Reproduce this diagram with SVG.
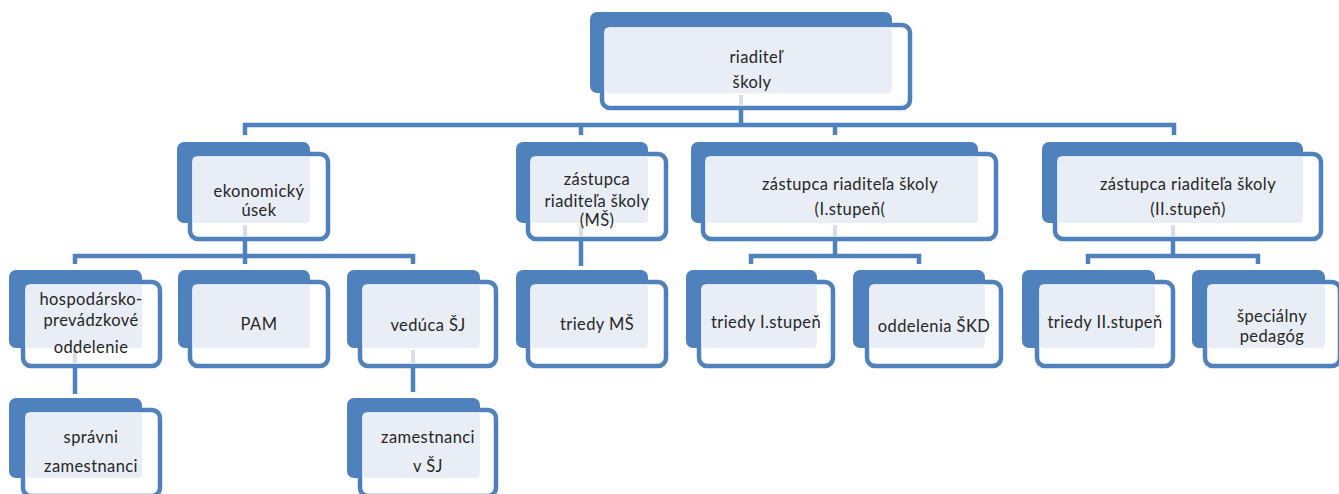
<svg xmlns="http://www.w3.org/2000/svg" width="1339" height="494" viewBox="0 0 1339 494">
<style>
.back{fill:#4f81bd}
.front{fill:#ffffff;stroke:#4f81bd;stroke-width:4.5}
.light{fill:#e9eef6}
.ghost{stroke:#d6dfeb;stroke-width:4}
.conn{fill:none;stroke:#4f81bd;stroke-width:4.5;stroke-linejoin:miter;stroke-linecap:butt}
text{font-family:Lato,"Open Sans","Liberation Sans",sans-serif;font-size:16.5px;letter-spacing:0.4px;fill:#262626;text-anchor:middle}
</style>
<rect width="1339" height="494" fill="#ffffff"/>
<g id="connectors">
<path class="conn" d="M741,110 V125"/>
<path class="conn" d="M245,135 V125 H1174 V135"/>
<path class="conn" d="M581,125 V135"/>
<path class="conn" d="M835,125 V135"/>
<path class="conn" d="M245,241 V256"/>
<path class="conn" d="M75,264 V256 H413 V264"/>
<path class="conn" d="M245,256 V264"/>
<path class="conn" d="M581,241 V266"/>
<path class="conn" d="M835,241 V256"/>
<path class="conn" d="M751,264 V256 H919 V264"/>
<path class="conn" d="M1173,241 V256"/>
<path class="conn" d="M1088,264 V256 H1258 V264"/>
<path class="conn" d="M75,368 V394"/>
<path class="conn" d="M413,368 V392"/>
</g>
<g id="n-riaditel">
<rect class="back" x="590" y="12" width="302" height="81" rx="7"/>
<rect class="front" x="602" y="25" width="308" height="83" rx="8"/>
<rect class="light" x="604.5" y="27.5" width="287.5" height="65.5" rx="4"/>
<line class="ghost" x1="741" y1="95" x2="741" y2="106"/>
<text x="756" y="63">riaditeľ</text>
<text x="752" y="88">školy</text>
</g>
<g id="n-ekonomicky">
<rect class="back" x="177" y="142" width="133" height="81" rx="7"/>
<rect class="front" x="190" y="154" width="138" height="85" rx="8"/>
<rect class="light" x="192.5" y="156.5" width="117.5" height="66.5" rx="4"/>
<line class="ghost" x1="245" y1="225" x2="245" y2="237"/>
<text x="259" y="197">ekonomický</text>
<text x="259" y="216">úsek</text>
</g>
<g id="n-zastupca-ms">
<rect class="back" x="516" y="142" width="132" height="81" rx="7"/>
<rect class="front" x="528" y="154" width="138" height="85" rx="8"/>
<rect class="light" x="530.5" y="156.5" width="117.5" height="66.5" rx="4"/>
<line class="ghost" x1="581" y1="225" x2="581" y2="237"/>
<text x="597" y="185">zástupca</text>
<text x="597" y="207">riaditeľa školy</text>
<text x="597" y="226">(MŠ)</text>
</g>
<g id="n-zastupca-1">
<rect class="back" x="691" y="142" width="287" height="81" rx="7"/>
<rect class="front" x="703" y="154" width="293" height="85" rx="8"/>
<rect class="light" x="705.5" y="156.5" width="272.5" height="66.5" rx="4"/>
<line class="ghost" x1="835" y1="225" x2="835" y2="237"/>
<text x="850" y="190">zástupca riaditeľa školy</text>
<text x="850" y="215">(I.stupeň(</text>
</g>
<g id="n-zastupca-2">
<rect class="back" x="1042" y="142" width="261" height="81" rx="7"/>
<rect class="front" x="1055" y="154" width="266" height="85" rx="8"/>
<rect class="light" x="1057.5" y="156.5" width="245.5" height="66.5" rx="4"/>
<line class="ghost" x1="1173" y1="225" x2="1173" y2="237"/>
<text x="1188" y="190">zástupca riaditeľa školy</text>
<text x="1188" y="215">(II.stupeň)</text>
</g>
<g id="n-hospodarsko">
<rect class="back" x="9" y="270" width="133" height="78" rx="7"/>
<rect class="front" x="23" y="282" width="137" height="84" rx="8"/>
<rect class="light" x="25.5" y="284.5" width="116.5" height="63.5" rx="4"/>
<line class="ghost" x1="75" y1="350" x2="75" y2="364"/>
<text x="91" y="305">hospodársko-</text>
<text x="91" y="326">prevádzkové</text>
<text x="91" y="353">oddelenie</text>
</g>
<g id="n-pam">
<rect class="back" x="178" y="270" width="132" height="78" rx="7"/>
<rect class="front" x="190" y="282" width="138" height="84" rx="8"/>
<rect class="light" x="192.5" y="284.5" width="117.5" height="63.5" rx="4"/>
<text x="259" y="330">PAM</text>
</g>
<g id="n-veduca">
<rect class="back" x="347" y="270" width="133" height="78" rx="7"/>
<rect class="front" x="360" y="282" width="136" height="84" rx="8"/>
<rect class="light" x="362.5" y="284.5" width="117.5" height="63.5" rx="4"/>
<line class="ghost" x1="413" y1="350" x2="413" y2="364"/>
<text x="428" y="331">vedúca ŠJ</text>
</g>
<g id="n-triedy-ms">
<rect class="back" x="516" y="270" width="132" height="78" rx="7"/>
<rect class="front" x="528" y="282" width="138" height="84" rx="8"/>
<rect class="light" x="530.5" y="284.5" width="117.5" height="63.5" rx="4"/>
<text x="597" y="330">triedy MŠ</text>
</g>
<g id="n-triedy-1">
<rect class="back" x="686" y="270" width="131" height="78" rx="7"/>
<rect class="front" x="699" y="282" width="134" height="84" rx="8"/>
<rect class="light" x="701.5" y="284.5" width="115.5" height="63.5" rx="4"/>
<text x="766" y="328">triedy I.stupeň</text>
</g>
<g id="n-skd">
<rect class="back" x="853" y="270" width="132" height="78" rx="7"/>
<rect class="front" x="867" y="282" width="134" height="84" rx="8"/>
<rect class="light" x="869.5" y="284.5" width="115.5" height="63.5" rx="4"/>
<text x="934" y="332">oddelenia ŠKD</text>
</g>
<g id="n-triedy-2">
<rect class="back" x="1022" y="270" width="133" height="78" rx="7"/>
<rect class="front" x="1037" y="282" width="136" height="84" rx="8"/>
<rect class="light" x="1039.5" y="284.5" width="115.5" height="63.5" rx="4"/>
<text x="1105" y="328">triedy II.stupeň</text>
</g>
<g id="n-specialny">
<rect class="back" x="1192" y="270" width="133" height="78" rx="7"/>
<rect class="front" x="1205" y="282" width="135" height="84" rx="8"/>
<rect class="light" x="1207.5" y="284.5" width="117.5" height="63.5" rx="4"/>
<text x="1272" y="322">špeciálny</text>
<text x="1272" y="342">pedagóg</text>
</g>
<g id="n-spravni">
<rect class="back" x="9" y="398" width="133" height="80" rx="7"/>
<rect class="front" x="23" y="410" width="137" height="86" rx="8"/>
<rect class="light" x="25.5" y="412.5" width="116.5" height="65.5" rx="4"/>
<text x="91" y="443">správni</text>
<text x="91" y="472">zamestnanci</text>
</g>
<g id="n-zamestnanci-sj">
<rect class="back" x="347" y="398" width="133" height="80" rx="7"/>
<rect class="front" x="360" y="410" width="136" height="86" rx="8"/>
<rect class="light" x="362.5" y="412.5" width="117.5" height="65.5" rx="4"/>
<text x="428" y="443">zamestnanci</text>
<text x="428" y="472">v ŠJ</text>
</g>
</svg>
